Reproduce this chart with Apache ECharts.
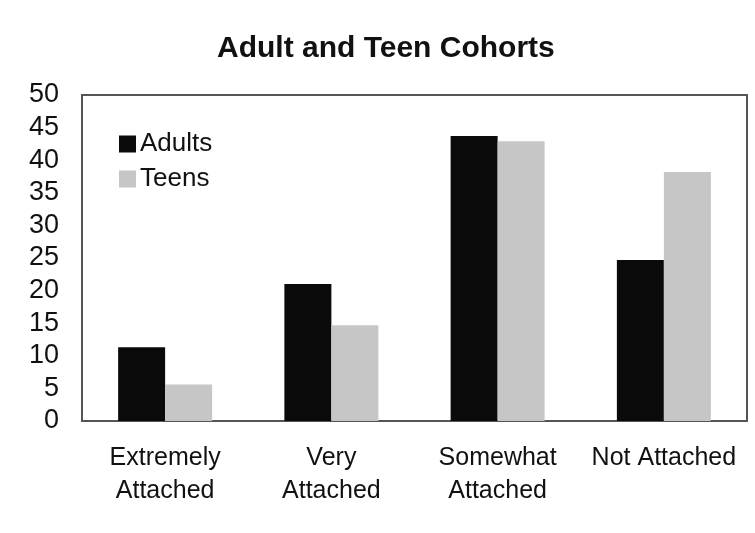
<!DOCTYPE html>
<html>
<head>
<meta charset="utf-8">
<script src="https://cdn.jsdelivr.net/npm/echarts@6/dist/echarts.min.js"></script>
<style>
html,body{margin:0;padding:0;background:#fff;}
#c{width:755px;height:533px;}
</style>
</head>
<body>
<div id="c"></div>
<script>
const categories = ["Extremely\nAttached", "Very\nAttached", "Somewhat\nAttached", "Not Attached"];
const adults = [11.3, 21, 43.7, 24.7];
const teens = [5.6, 14.7, 42.9, 38.2];
const seriesNames = ["Adults", "Teens"];

const chart = echarts.init(document.getElementById('c'), null, {renderer: 'canvas'});
chart.setOption({
  animation: false,
  backgroundColor: '#ffffff',
  title: {
    text: 'Adult and Teen Cohorts',
    left: 212,
    top: 29,
    textStyle: {fontFamily: 'Liberation Sans, Arial, sans-serif', fontSize: 30, fontWeight: 'bold', color: '#111'}
  },
  legend: {
    left: 114,
    top: 126,
    orient: 'vertical',
    itemWidth: 17,
    itemHeight: 17,
    itemGap: 9,
    icon: 'rect',
    textStyle: {fontFamily: 'Liberation Sans, Arial, sans-serif', fontSize: 26, color: '#111', padding: [0, 0, 0, -1]},
    data: seriesNames
  },
  grid: {
    left: 82, right: 8, top: 95, bottom: 112,
    show: true, borderColor: '#555', borderWidth: 2, backgroundColor: '#fff'
  },
  xAxis: {
    type: 'category',
    data: categories,
    axisLine: {show: true, lineStyle: {color: '#555', width: 2}},
    axisTick: {show: false},
    axisLabel: {
      fontFamily: 'Liberation Sans, Arial, sans-serif', fontSize: 25, color: '#111',
      margin: 21, lineHeight: 33, interval: 0
    }
  },
  yAxis: {
    type: 'value',
    min: 0, max: 50, interval: 5,
    axisLine: {show: true, lineStyle: {color: '#555', width: 2}},
    axisTick: {show: false},
    splitLine: {show: false},
    axisLabel: {fontFamily: 'Liberation Sans, Arial, sans-serif', fontSize: 27, color: '#111', margin: 23}
  },
  series: [
    {name: seriesNames[0], type: 'bar', data: adults, barWidth: 47, barGap: '0%',
     itemStyle: {color: '#0a0a0a'}},
    {name: seriesNames[1], type: 'bar', data: teens, barWidth: 47,
     itemStyle: {color: '#c6c6c6'}}
  ]
});
</script>
</body>
</html>
